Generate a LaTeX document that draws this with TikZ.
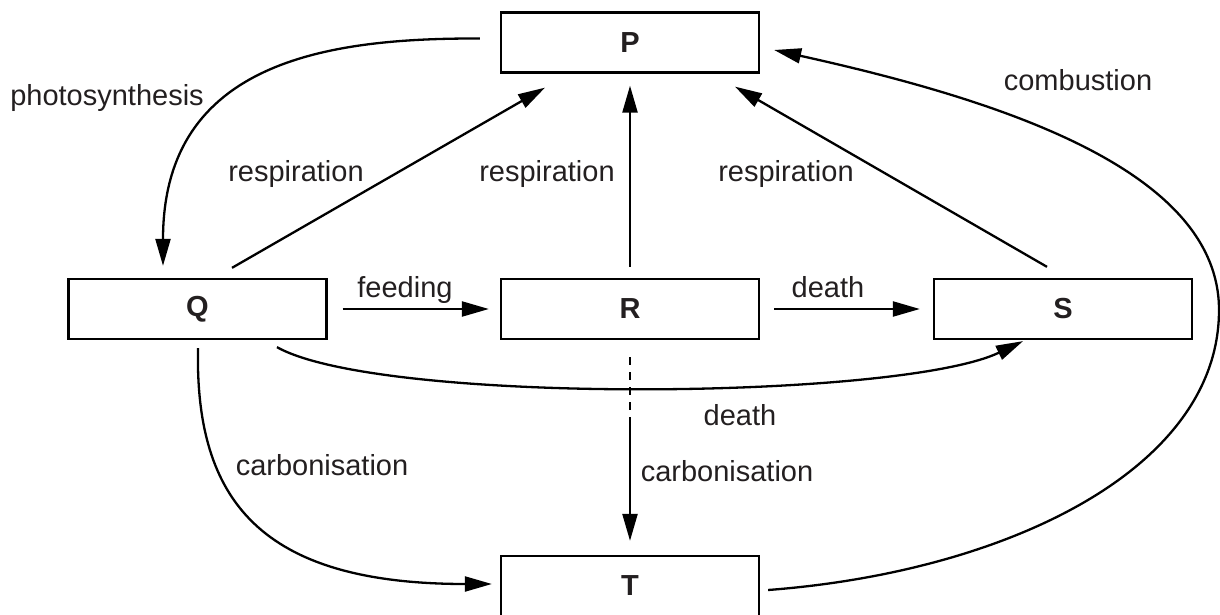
\documentclass[tikz,border=0pt]{standalone}
\usepackage{fontspec}
\setmainfont{Liberation Sans}
\usetikzlibrary{arrows.meta}
\definecolor{ink}{HTML}{231F20}
\begin{document}
\begin{tikzpicture}[x=1pt,y=-1pt,
  box/.style={draw, line width=2.3pt, minimum width=258pt, minimum height=60pt, inner sep=0pt,
    font=\fontsize{29pt}{34pt}\selectfont\bfseries, text=ink},
  lbl/.style={inner sep=0pt, text height=22pt, text depth=7pt,
    font=\fontsize{29pt}{34pt}\selectfont, text=ink},
  conn/.style={line width=2.3pt},
  arr/.style={conn, -{Triangle[length=27pt,width=15pt]}}]
\useasboundingbox (0,0) rectangle (1220,615);
% boxes
\node[box] (P) at (630,42.5) {P};
\node[box] (Q) at (197.5,309) {Q};
\node[box] (R) at (630,309) {R};
\node[box] (S) at (1063,309) {S};
\node[box] (T) at (630,586) {T};
% connectors
\draw[arr] ([shift={(-20pt,4pt)}]P.west) .. controls (330,38) and (163,60) .. ([shift={(-34.5pt,12pt)}]Q.north);
\draw[arr] ([shift={(34.5pt,10pt)}]Q.north) -- ([shift={(-85pt,-14pt)}]P.south);
\draw[arr] ([shift={(0pt,11pt)}]R.north) -- ([shift={(0pt,-12pt)}]P.south);
\draw[arr] ([shift={(-16pt,11pt)}]S.north) -- ([shift={(105pt,-13pt)}]P.south);
\coordinate (cmb) at (1219,310);
\draw[arr] ([shift={(8pt,-4pt)}]T.east) .. controls (1005,572) and (1219,470) .. (cmb)
  .. controls (1219,170) and (1000,100) .. ([shift={(14pt,-7.5pt)}]P.east);
\draw[arr] ([xshift=15pt]Q.east) -- ([xshift=-11pt]R.west);
\draw[arr] ([xshift=14pt]R.east) -- ([xshift=-13pt]S.west);
\draw[arr] ([shift={(79.5pt,-7pt)}]Q.south) .. controls (380,405) and (900,400) .. ([shift={(-40pt,-1pt)}]S.south);
\draw[conn, dash pattern=on 8pt off 7pt] ([yshift=-17pt]R.south) -- ([yshift=-70pt]R.south);
\draw[arr] ([yshift=-77pt]R.south) -- ([yshift=14pt]T.north);
\draw[arr] ([shift={(0.5pt,-8pt)}]Q.south) .. controls (195,500) and (260,584) .. ([shift={(-8pt,2pt)}]T.west);
% labels
\node[lbl] (l1) at (107,98.5) {photosynthesis};
\node[lbl] (l2) at (296,174) {respiration};
\node[lbl] (l3) at (547,174) {respiration};
\node[lbl] (l4) at (786,174) {respiration};
\node[lbl] (l5) at (1078,83) {combustion};
\node[lbl] (l6) at (405,289.5) {feeding};
\node[lbl] (l7) at (828,289.5) {death};
\node[lbl] (l8) at (740,418) {death};
\node[lbl] (l9) at (727,474) {carbonisation};
\node[lbl] (l10) at (322,468) {carbonisation};
\end{tikzpicture}
\end{document}
